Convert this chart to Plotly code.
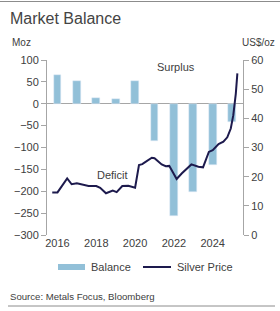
import plotly.graph_objects as go

# ---- data ----
years = [2016, 2017, 2018, 2019, 2020, 2021, 2022, 2023, 2024, 2025]
balance = [65, 52, 13, 10, 52, -85, -256, -202, -139, -42]

price_x = [2015.73, 2016.0, 2016.5, 2016.73, 2017.0, 2017.6, 2018.0, 2018.2, 2018.5, 2018.85,
           2019.05, 2019.34, 2019.65, 2020.0, 2020.2, 2020.37, 2020.5, 2020.86, 2021.0, 2021.37,
           2021.58, 2021.76, 2022.14, 2022.4, 2022.9, 2023.26, 2023.5, 2023.8, 2024.0, 2024.3,
           2024.55, 2024.75, 2024.93, 2025.06, 2025.19, 2025.27]
price = [14.6, 14.6, 19.4, 17.4, 17.7, 16.8, 16.8, 16.2, 14.3, 15.2,
         14.7, 16.8, 16.9, 16.2, 24.0, 24.3, 24.9, 26.5, 26.3, 24.2,
         23.6, 23.7, 19.2, 21.1, 24.2, 23.4, 23.2, 28.5, 29.1, 31.2,
         32.0, 33.5, 36.5, 41.1, 48.5, 55.4]

x_ticks = [2016, 2018, 2020, 2022, 2024]
left_ticks = [100, 50, 0, -50, -100, -150, -200, -250, -300]
right_ticks = [0, 10, 20, 30, 40, 50, 60]

BAR = "#92c0d8"
LINE = "#1d1a4d"
TXT = "#404040"
AX = "#a6a6a6"
FONT = "Liberation Sans, Arial, sans-serif"

W, H = 280, 311
L, R, T, B = 47, 37, 60, 76
PW, PH = W - L - R, H - T - B


def px(x):
    return (x - L) / PW


def py(y):
    return (H - B - y) / PH


fig = go.Figure()
fig.add_trace(go.Bar(x=years, y=balance, marker_color=BAR, width=0.41,
                     name="Balance", showlegend=False, yaxis="y"))
fig.add_trace(go.Scatter(x=price_x, y=price, mode="lines", line=dict(color=LINE, width=2),
                         name="Silver Price", showlegend=False, yaxis="y2"))

fig.update_layout(
    width=W, height=H,
    margin=dict(l=L, r=R, t=T, b=B),
    paper_bgcolor="white", plot_bgcolor="white",
    font=dict(family=FONT, size=10, color=TXT),
    bargap=0,
    xaxis=dict(range=[2015.46, 2025.56], tickvals=x_ticks, ticktext=[str(v) for v in x_ticks],
               showline=False, showgrid=False, zeroline=False, ticks="", tickfont=dict(size=11)),
    yaxis=dict(range=[-300, 100], tickvals=left_ticks, showgrid=False, showline=True,
               linecolor=AX, linewidth=1, ticks="outside", ticklen=5, tickcolor=AX,
               zeroline=True, zerolinecolor=AX, zerolinewidth=1, tickfont=dict(size=11)),
    yaxis2=dict(range=[0, 60], tickvals=right_ticks, overlaying="y", side="right",
                showgrid=False, showline=True, linecolor=AX, linewidth=1, ticks="outside",
                ticklen=5, tickcolor=AX, zeroline=False, tickfont=dict(size=11)),
)

ann = [
    dict(text="Market Balance", x=px(8), y=py(18), xanchor="left", yanchor="middle",
         font=dict(size=16, color="#444444")),
    dict(text="Moz", x=px(10), y=py(43), xanchor="left", yanchor="middle", font=dict(size=10)),
    dict(text="US$/oz", x=px(277), y=py(43), xanchor="right", yanchor="middle", font=dict(size=10)),
    dict(text="Surplus", x=px(176), y=py(67), xanchor="center", yanchor="middle", font=dict(size=11)),
    dict(text="Deficit", x=px(112), y=py(175), xanchor="center", yanchor="middle", font=dict(size=11)),
    dict(text="Balance", x=px(89), y=py(267), xanchor="left", yanchor="middle", font=dict(size=11)),
    dict(text="Silver Price", x=px(175), y=py(267), xanchor="left", yanchor="middle", font=dict(size=11)),
    dict(text="Source: Metals Focus, Bloomberg", x=px(8), y=py(296), xanchor="left",
         yanchor="middle", font=dict(size=9.6)),
]
for a in ann:
    a.update(xref="paper", yref="paper", showarrow=False)
    fig.add_annotation(**a)

shapes = [
    dict(type="line", x0=px(0), x1=px(280), y0=py(1.5), y1=py(1.5), line=dict(color="#8c8c8c", width=1)),
    dict(type="rect", x0=px(58), x1=px(85), y0=py(264), y1=py(270), fillcolor=BAR, line=dict(width=0)),
    dict(type="line", x0=px(143), x1=px(171), y0=py(267), y1=py(267), line=dict(color=LINE, width=2)),
    dict(type="line", x0=px(8), x1=px(275), y0=py(306), y1=py(306), line=dict(color="#8c8c8c", width=1)),
]
for s in shapes:
    s.update(xref="paper", yref="paper")
    fig.add_shape(**s)

fig.write_html("out.html")
